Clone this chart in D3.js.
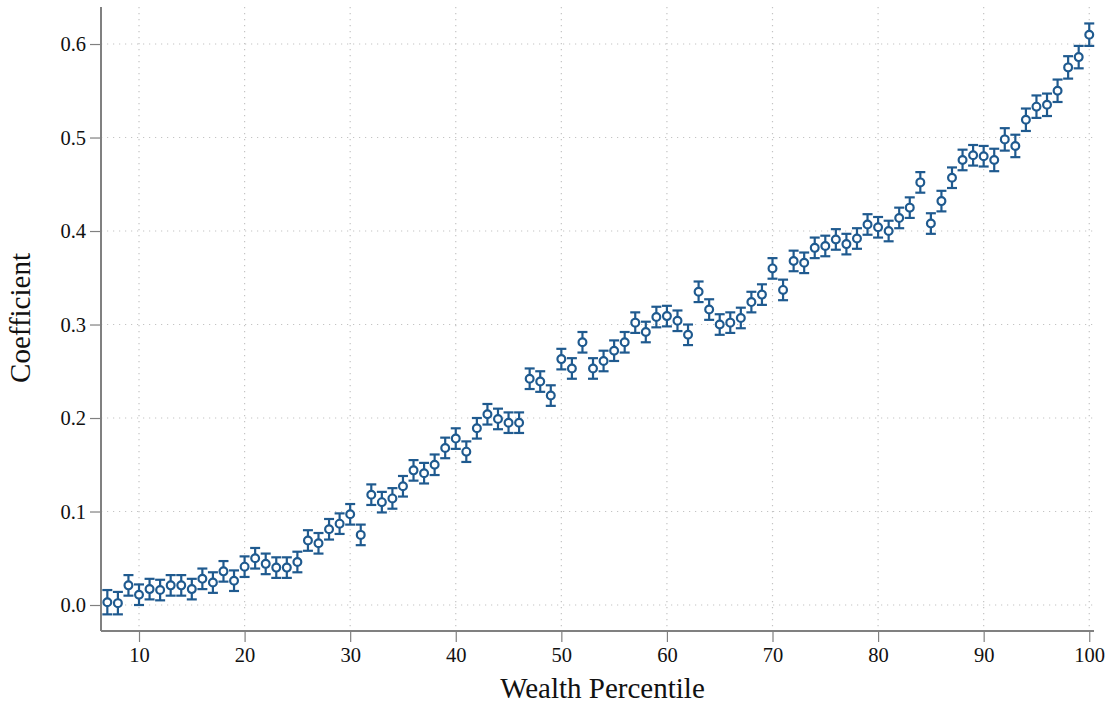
<!DOCTYPE html>
<html>
<head>
<meta charset="utf-8">
<script src="https://cdn.jsdelivr.net/npm/d3@7"></script>
<style>
  html, body { margin: 0; padding: 0; background: #fff; }
  svg { display: block; }
  text { font-family: "Liberation Serif", "Times New Roman", serif; fill: #111; }
</style>
</head>
<body>
<svg id="chart" width="1112" height="706"></svg>
<script>
// ---- data ----
const percentile = [7,8,9,10,11,12,13,14,15,16,17,18,19,20,21,22,23,24,25,26,27,28,29,30,
  31,32,33,34,35,36,37,38,39,40,41,42,43,44,45,46,47,48,49,50,51,52,53,54,55,56,57,58,59,60,
  61,62,63,64,65,66,67,68,69,70,71,72,73,74,75,76,77,78,79,80,81,82,83,84,85,86,87,88,89,90,
  91,92,93,94,95,96,97,98,99,100];
const coef = [0.003,0.002,0.021,0.011,0.017,0.016,0.021,0.021,0.017,0.028,0.024,0.036,0.026,0.041,
  0.050,0.044,0.040,0.040,0.046,0.069,0.066,0.081,0.087,0.097,
  0.075,0.118,0.110,0.114,0.127,0.144,0.141,0.150,0.168,0.178,0.164,0.189,0.204,0.199,0.195,0.195,
  0.242,0.239,0.224,0.263,0.253,0.281,0.253,0.261,0.272,0.281,0.302,0.292,0.308,0.309,
  0.304,0.289,0.335,0.316,0.300,0.302,0.307,0.324,0.332,0.360,0.337,0.368,0.366,0.382,0.384,0.391,
  0.386,0.392,0.407,0.404,0.400,0.414,0.425,0.452,0.408,0.432,0.457,0.476,0.481,0.480,
  0.476,0.498,0.491,0.519,0.533,0.535,0.550,0.575,0.586,0.610];
const ciHalf = [0.013,0.012,0.011,0.011,0.011,0.011,0.011,0.011,0.011,0.011,0.011,0.011,0.011,0.011,
  0.011,0.011,0.011,0.011,0.011,0.011,0.011,0.011,0.011,0.011,
  0.011,0.011,0.011,0.011,0.011,0.011,0.011,0.011,0.011,0.011,0.011,0.011,0.011,0.011,0.011,0.011,
  0.011,0.011,0.011,0.011,0.011,0.011,0.011,0.011,0.011,0.011,0.011,0.011,0.011,0.011,
  0.011,0.011,0.011,0.011,0.011,0.011,0.011,0.011,0.011,0.011,0.011,0.011,0.011,0.011,0.011,0.011,
  0.011,0.011,0.011,0.011,0.011,0.011,0.011,0.011,0.011,0.011,0.011,0.011,0.011,0.011,
  0.012,0.012,0.012,0.012,0.012,0.012,0.012,0.012,0.012,0.012];
const xTicks = [10,20,30,40,50,60,70,80,90,100];
const yTicks = [0,0.1,0.2,0.3,0.4,0.5,0.6];
const yTickLabels = ["0.0","0.1","0.2","0.3","0.4","0.5","0.6"];
const xTitle = "Wealth Percentile";
const yTitle = "Coefficient";

// ---- layout ----
const svg = d3.select("#chart");
const L = 101, R = 1094, T = 7, B = 631;
const x = d3.scaleLinear().domain([6.4, 100.45]).range([L, R]);
const y = d3.scaleLinear().domain([-0.0278, 0.6396]).range([B, T]);
const markColor = "#1f5a8f";
const axisColor = "#808080";
const gridColor = "#c4c4c4";

// grid
const grid = svg.append("g");
grid.selectAll("line.gx").data(xTicks).enter().append("line")
  .attr("x1", d => x(d)).attr("x2", d => x(d)).attr("y1", T).attr("y2", B)
  .attr("stroke", gridColor).attr("stroke-width", 1.2).attr("stroke-dasharray", "1.2,4.8");
grid.selectAll("line.gy").data(yTicks).enter().append("line")
  .attr("x1", L).attr("x2", R).attr("y1", d => y(d)).attr("y2", d => y(d))
  .attr("stroke", gridColor).attr("stroke-width", 1.2).attr("stroke-dasharray", "1.2,4.8");

// axes
const xAxis = d3.axisBottom(x).tickValues(xTicks).tickFormat(d3.format("d")).tickSizeInner(11).tickSizeOuter(0).tickPadding(5);
const yAxis = d3.axisLeft(y).tickValues(yTicks).tickFormat((d, i) => yTickLabels[i]).tickSizeInner(11).tickSizeOuter(0).tickPadding(4);

const gx = svg.append("g").attr("transform", `translate(0,${B})`).call(xAxis);
const gy = svg.append("g").attr("transform", `translate(${L},0)`).call(yAxis);
[gx, gy].forEach(g => {
  g.select(".domain").attr("stroke", axisColor).attr("stroke-width", 2);
  g.selectAll(".tick line").attr("stroke", axisColor).attr("stroke-width", 1.2);
  g.selectAll(".tick text").attr("font-family", "Liberation Serif, serif").attr("font-size", 20.5).attr("fill", "#111");
});
gx.select(".domain").attr("d", `M${L},0H${R}`);
gy.select(".domain").attr("d", `M0,${B}V${T}`);

// titles
svg.append("text").attr("x", (L + R) / 2 + 5).attr("y", 698)
  .attr("text-anchor", "middle").attr("font-size", 29).text(xTitle);
svg.append("text").attr("transform", `translate(30,318) rotate(-90)`)
  .attr("text-anchor", "middle").attr("font-size", 29).text(yTitle);

// data marks
const data = percentile.map((p, i) => ({ p, c: coef[i], h: ciHalf[i] }));
const marks = svg.append("g");
const capW = 5;
const g = marks.selectAll("g.pt").data(data).enter().append("g");
g.append("line")
  .attr("x1", d => x(d.p)).attr("x2", d => x(d.p))
  .attr("y1", d => y(d.c - d.h)).attr("y2", d => y(d.c + d.h))
  .attr("stroke", markColor).attr("stroke-width", 2.2);
g.append("line")
  .attr("x1", d => x(d.p) - capW).attr("x2", d => x(d.p) + capW)
  .attr("y1", d => y(d.c + d.h)).attr("y2", d => y(d.c + d.h))
  .attr("stroke", markColor).attr("stroke-width", 2.2);
g.append("line")
  .attr("x1", d => x(d.p) - capW).attr("x2", d => x(d.p) + capW)
  .attr("y1", d => y(d.c - d.h)).attr("y2", d => y(d.c - d.h))
  .attr("stroke", markColor).attr("stroke-width", 2.2);
g.append("circle")
  .attr("cx", d => x(d.p)).attr("cy", d => y(d.c)).attr("r", 3.9)
  .attr("fill", "#fff").attr("stroke", markColor).attr("stroke-width", 2.2);
</script>
</body>
</html>
